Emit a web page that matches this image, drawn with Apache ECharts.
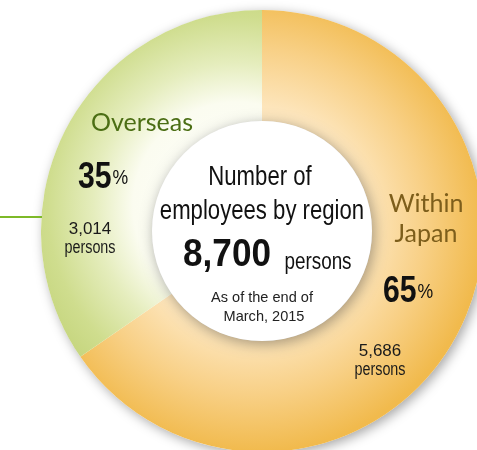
<!DOCTYPE html>
<html>
<head>
<meta charset="utf-8">
<script src="https://cdn.jsdelivr.net/npm/echarts@6/dist/echarts.min.js"></script>
<style>
html,body{margin:0;padding:0;background:#fff;}
#c{width:477px;height:450px;}
</style>
</head>
<body>
<div id="c"></div>
<script>
var categories = ['Within Japan', 'Overseas'];
var values = [5686, 3014];
var total = 8700;
var centerTitle = ['Number of', 'employees by region'];
var asOf = ['As of the end of', 'March, 2015'];

var CX = 262, CY = 231, R0 = 110, R1 = 221;
var REG = '"Liberation Sans",Arial,sans-serif';
var HUM = 'Lato,"Open Sans",sans-serif';

function pct(v){ return Math.round(v / total * 100); }
function fmt(v){ return v.toLocaleString('en-US'); }

var chart = echarts.init(document.getElementById('c'), null, {renderer:'canvas'});

var orangeGrad = {type:'radial', x:CX-10, y:CY-10, r:R1+10, global:true,
  colorStops:[{offset:0,color:'#fff6e6'},{offset:0.5,color:'#fde5bb'},{offset:0.75,color:'#f8d086'},{offset:1,color:'#f1ba4d'}]};
var greenGrad = {type:'radial', x:CX-25, y:CY-25, r:R1+10, global:true,
  colorStops:[{offset:0,color:'#ffffff'},{offset:0.45,color:'#fbfcf0'},{offset:0.62,color:'#e5edbd'},{offset:0.82,color:'#cfdd8e'},{offset:1,color:'#c2d378'}]};
var colors = [orangeGrad, greenGrad];

function t(x, y, text, font, size, weight, color, sx){
  return {type:'text', x:x, y:y, z:200, scaleX:sx||1,
    style:{text:text, fontFamily:font, fontSize:size, fontWeight:weight||'normal',
      fill:color||'#1a1a1a', textAlign:'center', textVerticalAlign:'bottom'}};
}
function pctText(x, y, v){
  return {type:'text', x:x, y:y, z:200, scaleX:0.84, style:{
    text:'{a|' + pct(v) + '}{b|%}', textAlign:'center', textVerticalAlign:'bottom',
    rich:{a:{fontFamily:REG, fontSize:36, fontWeight:'bold', fill:'#111'},
          b:{fontFamily:REG, fontSize:21, fill:'#111', padding:[0,0,0,1]}}}};
}

var graphics = [
  {type:'circle', shape:{cx:CX, cy:CY, r:R1}, z:-1,
    style:{fill:'#ffffff', shadowBlur:12, shadowColor:'rgba(0,0,0,0.35)', shadowOffsetX:3, shadowOffsetY:3}},
  {type:'circle', shape:{cx:CX, cy:CY, r:R0}, z:100,
    style:{fill:'#ffffff', shadowBlur:14, shadowColor:'rgba(0,0,0,0.35)', shadowOffsetX:2, shadowOffsetY:3}},
  {type:'line', shape:{x1:0, y1:217, x2:42, y2:217}, z:100, style:{stroke:'#7db928', lineWidth:2}},
  // center
  t(260, 191, centerTitle[0], REG, 27, 'normal', '#111', 0.82),
  t(262, 225, centerTitle[1], REG, 27, 'normal', '#111', 0.82),
  t(227, 275, fmt(total), REG, 39, 'bold', '#111', 0.9),
  t(318, 274, 'persons', REG, 23, 'normal', '#111', 0.82),
  t(262, 305, asOf[0], REG, 15, 'normal', '#222', 0.97),
  t(264, 324, asOf[1], REG, 15, 'normal', '#222', 0.97),
  // Overseas
  t(142, 135, categories[1], HUM, 25, 'normal', '#4b6e14'),
  pctText(103, 196, values[1]),
  t(90, 238, fmt(values[1]), REG, 17, 'normal', '#1a1a1a'),
  t(90, 257, 'persons', REG, 17.5, 'normal', '#1a1a1a', 0.82),
  // Within Japan
  t(426, 216, 'Within', HUM, 25, 'normal', '#7d5e1b'),
  t(426, 246, 'Japan', HUM, 25, 'normal', '#7d5e1b'),
  pctText(408, 310, values[0]),
  t(380, 360, fmt(values[0]), REG, 17, 'normal', '#1a1a1a'),
  t(380, 379, 'persons', REG, 17.5, 'normal', '#1a1a1a', 0.82)
];

chart.setOption({
  animation:false,
  backgroundColor:'#ffffff',
  graphic:{elements:graphics},
  series:[{
    type:'pie',
    center:[CX, CY],
    radius:[R0, R1],
    startAngle:90,
    clockwise:true,
    silent:true,
    label:{show:false},
    labelLine:{show:false},
    itemStyle:{borderWidth:0},
    data:categories.map(function(c, i){
      return {name:c, value:values[i], itemStyle:{color:colors[i]}};
    })
  }]
});
</script>
</body>
</html>
